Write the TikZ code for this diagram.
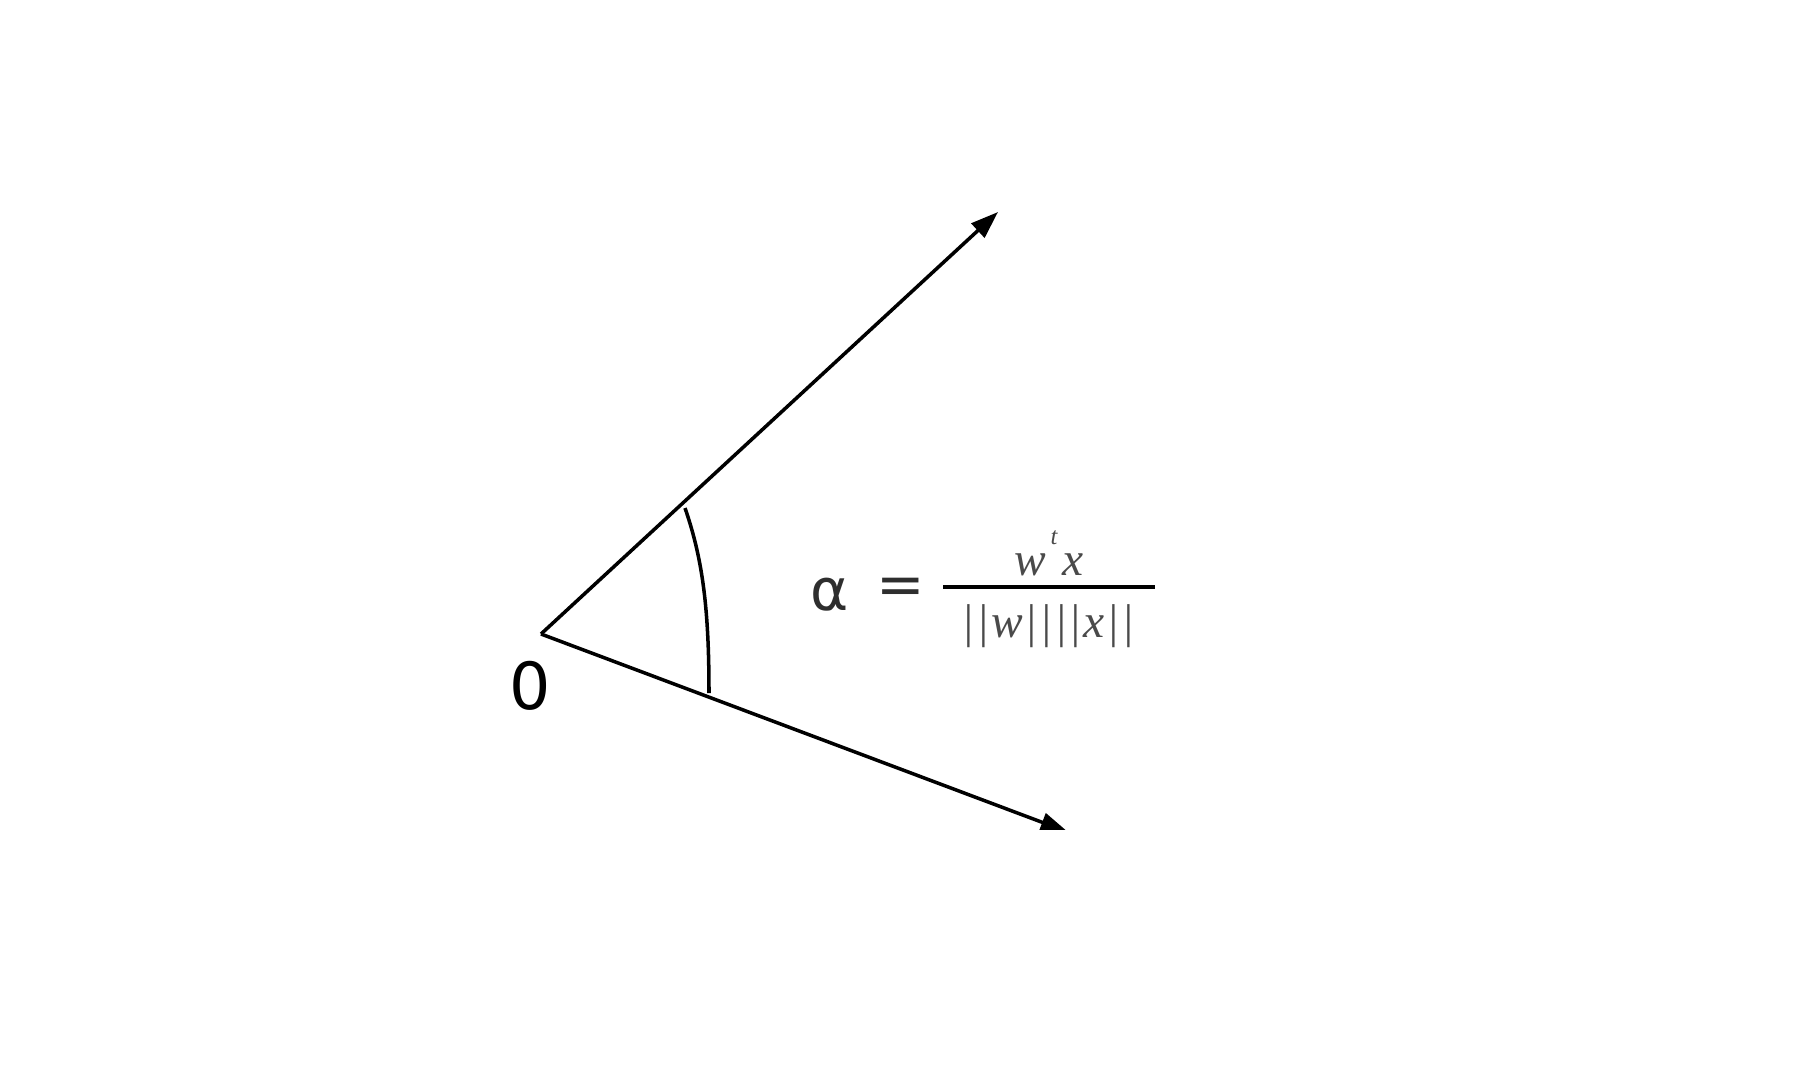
\documentclass[tikz,border=0pt]{standalone}
\usepackage{fontspec}
\setmainfont{DejaVu Sans}
\newfontfamily\serifit{Liberation Serif}[ItalicFont={Liberation Serif Italic}]
\usetikzlibrary{arrows.meta}
\definecolor{txtgray}{HTML}{4A4A4A}
\definecolor{symgray}{HTML}{2E2E2E}
\tikzset{
  vec/.style={line width=2pt, -{Triangle[length=0.55cm,width=0.38cm]}},
  anglearc/.style={line width=2pt},
  lbl/.style={inner sep=0pt, outer sep=0pt, anchor=center},
}
\begin{document}
\begin{tikzpicture}[x=0.02cm,y=-0.02cm]
\useasboundingbox (0,0) rectangle (1800,1080);
\coordinate (O) at (541,634);
\coordinate (A) at (998,212);
\coordinate (B) at (1068,832);
\coordinate (P) at (685,508);
\coordinate (Q) at (709,693);
\draw[vec] (O) -- (A);
\begin{scope}
\clip (0,0) rectangle (1800,829);
\draw[vec] (O) -- (B);
\end{scope}
\draw[anglearc] (P) .. controls (703,560) and (709,610) .. (Q);
\node[lbl, font=\fontsize{37}{40}\selectfont] (zero) at (530,686) {0};
\node[lbl, font=\fontsize{33}{36}\selectfont, text=symgray] (alpha) at (830,595) {α};
\node[lbl, font=\fontsize{33}{36}\selectfont, text=symgray] (eq) at (901,591) {=};
\coordinate (barL) at (943,587);
\coordinate (barR) at (1155,587);
\draw[line width=2.4pt] (barL) -- (barR);
\node[lbl, font=\serifit\itshape\fontsize{27}{30}\selectfont, text=txtgray] (w) at (1030,565) {w};
\node[lbl, font=\serifit\itshape\fontsize{14}{16}\selectfont, text=txtgray] (t) at (1054,538) {t};
\node[lbl, font=\serifit\itshape\fontsize{27}{30}\selectfont, text=txtgray] (x) at (1073,565) {x};
\node[lbl, font=\serifit\itshape\fontsize{27}{30}\selectfont, text=txtgray] (den) at (1048,626) {|\kern1pt|\kern1pt w\kern1pt|\kern1pt|\kern1pt|\kern1pt|\kern1pt x\kern1pt|\kern1pt|};
\end{tikzpicture}
\end{document}
